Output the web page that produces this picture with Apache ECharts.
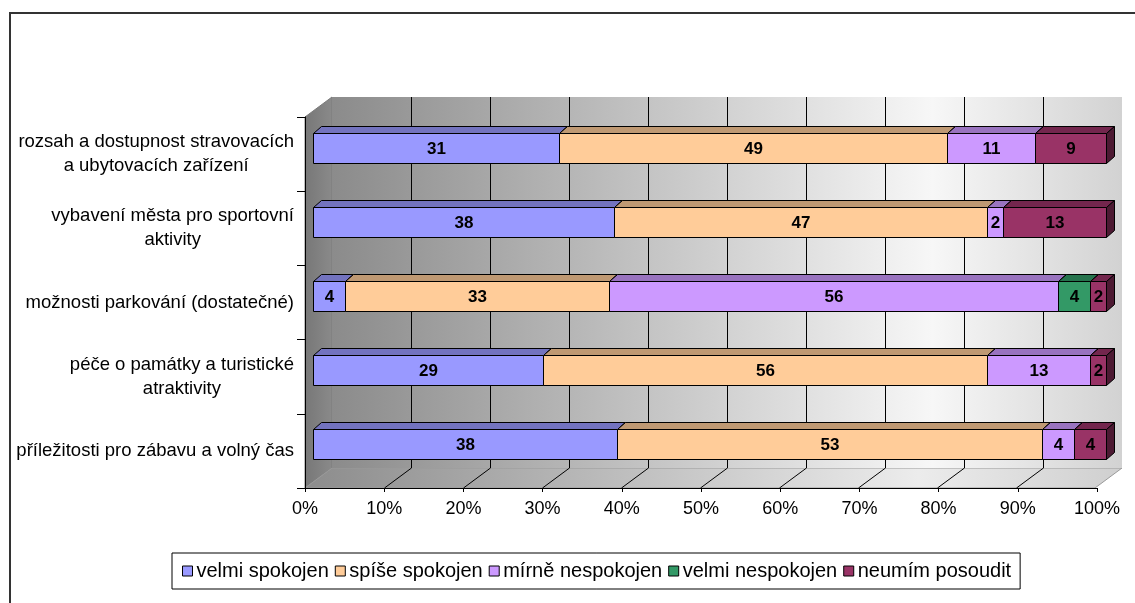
<!DOCTYPE html>
<html><head><meta charset="utf-8">
<script src="https://cdn.jsdelivr.net/npm/echarts/dist/echarts.min.js"></script>
<style>html,body{margin:0;padding:0;background:#fff}#c{width:1135px;height:603px}</style>
</head><body><div id="c"></div>
<script>
// ---- data ----
const categories = [
  'rozsah a dostupnost stravovacích\na ubytovacích zařízení',
  'vybavení města pro sportovní\naktivity',
  'možnosti parkování (dostatečné)',
  'péče o památky a turistické\natraktivity',
  'příležitosti pro zábavu a volný čas'
];
const seriesNames = ['velmi spokojen', 'spíše spokojen', 'mírně nespokojen', 'velmi nespokojen', 'neumím posoudit'];
const velmiSpokojen   = [31, 38, 4, 29, 38];
const spiseSpokojen   = [49, 47, 33, 56, 53];
const mirneNespokojen = [11, 2, 56, 13, 4];
const velmiNespokojen = [0, 0, 4, 0, 0];
const neumimPosoudit  = [9, 13, 2, 2, 4];
const xTickValues = [0, 10, 20, 30, 40, 50, 60, 70, 80, 90, 100];
const xTickLabels = ['0%', '10%', '20%', '30%', '40%', '50%', '60%', '70%', '80%', '90%', '100%'];

// ---- style ----
const seriesValues = [velmiSpokojen, spiseSpokojen, mirneNespokojen, velmiNespokojen, neumimPosoudit];
const colors = ['#9999FF', '#FFCC99', '#CC99FF', '#339966', '#993366'];
const FONT = "'Liberation Sans', Arial, sans-serif";
const WALL_DX = 27, WALL_DY = 20;   // depth of the 3D box
const BAR_DX = 8, BAR_DY = 7;       // depth of the 3D bars
const BAR_H = 30;

function shade(hex, f) {
  const n = parseInt(hex.slice(1), 16);
  const r = Math.round(((n >> 16) & 255) * f), g = Math.round(((n >> 8) & 255) * f), b = Math.round((n & 255) * f);
  return 'rgb(' + r + ',' + g + ',' + b + ')';
}
const px = v => Math.round(v) + 0.5;

// row totals -> 100 % stacking
const totals = categories.map((c, i) => seriesValues.reduce((s, arr) => s + arr[i], 0));
const cum = categories.map(() => 0);
const stackedData = seriesValues.map(arr => arr.map((v, i) => {
  const s = cum[i] / totals[i] * 100;
  cum[i] += v;
  const e = cum[i] / totals[i] * 100;
  return [i, s, e, v];
}));

function renderBar(params, api) {
  const v = api.value(3);
  if (!v) return null;
  const row = api.value(0);
  const p0 = api.coord([api.value(1), row]);
  const p1 = api.coord([api.value(2), row]);
  const x0 = px(p0[0]), x1 = px(p1[0]);
  const yT = px(p0[1] - BAR_H / 2), yB = px(p0[1] + BAR_H / 2);
  const color = colors[params.seriesIndex - 1];
  return {
    type: 'group',
    children: [
      { type: 'polygon', shape: { points: [[x0, yT], [x1, yT], [x1 + BAR_DX, yT - BAR_DY], [x0 + BAR_DX, yT - BAR_DY]] },
        style: { fill: shade(color, 0.75), stroke: '#000', lineWidth: 1 } },
      { type: 'polygon', shape: { points: [[x1, yT], [x1 + BAR_DX, yT - BAR_DY], [x1 + BAR_DX, yB - BAR_DY], [x1, yB]] },
        style: { fill: shade(color, 0.5), stroke: '#000', lineWidth: 1 } },
      { type: 'rect', shape: { x: x0, y: yT, width: x1 - x0, height: yB - yT },
        style: { fill: color, stroke: '#000', lineWidth: 1 } },
      { type: 'text', x: (x0 + x1) / 2, y: (yT + yB) / 2 + 1,
        style: { text: String(v), fill: '#000', font: 'bold 17px ' + FONT, align: 'center', verticalAlign: 'middle' } }
    ]
  };
}

function renderWalls(params, api) {
  const cs = params.coordSys;
  const bx = cs.x, by = cs.y, bw = cs.width, bh = cs.height;
  const fb = by + bh + WALL_DY;
  const children = [
    { type: 'polygon', shape: { points: [[bx - WALL_DX, by + WALL_DY], [bx, by], [bx, by + bh], [bx - WALL_DX, fb]] },
      style: { fill: { type: 'linear', x: 0, y: 0, x2: 1, y2: 0, colorStops: [{ offset: 0, color: '#777777' }, { offset: 1, color: '#8a8a8a' }] }, stroke: '#7a7a7a', lineWidth: 1 } },
    { type: 'polygon', shape: { points: [[bx - WALL_DX, fb], [bx, by + bh], [bx + bw, by + bh], [bx + bw - WALL_DX, fb]] },
      style: { fill: { type: 'linear', x: 0, y: 0, x2: 1, y2: 0, colorStops: [{ offset: 0, color: '#8c8c8c' }, { offset: 0.75, color: '#ececec' }, { offset: 1, color: '#cfcfcf' }] }, stroke: '#9a9a9a', lineWidth: 1 } }
  ];
  xTickValues.forEach(t => {
    if (t === xTickValues[0] || t === xTickValues[xTickValues.length - 1]) return;
    const x = px(api.coord([t, 0])[0]);
    children.push({ type: 'line', shape: { x1: x, y1: by + bh, x2: x - WALL_DX, y2: fb }, style: { stroke: '#000', lineWidth: 1 } });
  });
  return { type: 'group', children };
}

const chart = echarts.init(document.getElementById('c'), null, { renderer: 'canvas' });
const option = {
  animation: false,
  backgroundColor: '#fff',
  textStyle: { fontFamily: FONT },
  graphic: [{
    type: 'rect', shape: { x: 10, y: 13, width: 1300, height: 700 }, z: 10,
    style: { fill: null, stroke: '#333', lineWidth: 2 }, silent: true
  }],
  legend: {
    data: seriesNames,
    left: 172, top: 553,
    padding: [7, 9, 7, 10],
    itemGap: 6,
    itemWidth: 10, itemHeight: 10,
    icon: 'rect',
    borderColor: '#000', borderWidth: 1,
    itemStyle: { borderColor: '#000', borderWidth: 1 },
    textStyle: { fontSize: 20, lineHeight: 22, color: '#000', fontFamily: FONT, padding: [0, 0, 0, -1] }
  },
  grid: [
    { left: 305, top: 117, width: 792, height: 371, containLabel: false, outerBoundsMode: 'none' },
    { left: 332, top: 97, width: 790, height: 371, containLabel: false, outerBoundsMode: 'none', show: true, borderWidth: 0,
      backgroundColor: { type: 'linear', x: 0, y: 0, x2: 1, y2: 0, colorStops: [{ offset: 0, color: '#8b8b8b' }, { offset: 0.76, color: '#f7f7f7' }, { offset: 1, color: '#d2d2d2' }] } },
    { left: 313, top: 111, width: 793, height: 370, containLabel: false, outerBoundsMode: 'none' }
  ],
  xAxis: [
    { gridIndex: 0, type: 'value', min: 0, max: 100, interval: 10,
      axisLine: { show: true, lineStyle: { color: '#000', width: 1 } },
      axisTick: { show: true, length: 4, lineStyle: { color: '#000' } },
      splitLine: { show: false },
      axisLabel: { margin: 12, color: '#000', fontSize: 18, fontFamily: FONT,
        formatter: v => xTickLabels[xTickValues.indexOf(v)] } },
    { gridIndex: 1, type: 'value', min: 0, max: 100, interval: 10,
      axisLine: { show: false }, axisTick: { show: false }, axisLabel: { show: false },
      splitLine: { show: true, showMinLine: false, showMaxLine: false, lineStyle: { color: '#000', width: 1 } } },
    { gridIndex: 2, type: 'value', min: 0, max: 100, show: false, splitLine: { show: false } }
  ],
  yAxis: [
    { gridIndex: 0, type: 'category', data: categories, inverse: true,
      axisLine: { show: true, lineStyle: { color: '#000', width: 1 } },
      axisTick: { show: true, length: 8, alignWithLabel: false, lineStyle: { color: '#000' } },
      axisLabel: { margin: 11, color: '#000', fontSize: 18.5, fontFamily: FONT, lineHeight: 24, align: 'right',
        formatter: v => v.split('\n').map(l => '{c|' + l + '}').join('\n'),
        rich: { c: { align: 'center', fontSize: 18.5, lineHeight: 24, fontFamily: FONT, color: '#000' } } } },
    { gridIndex: 1, type: 'value', min: 0, max: 1, show: false, splitLine: { show: false } },
    { gridIndex: 2, type: 'category', data: categories, inverse: true, show: false }
  ],
  series: [
    { type: 'custom', name: '_walls', xAxisIndex: 1, yAxisIndex: 1, z: -1, silent: true,
      data: [[0, 0]], renderItem: renderWalls }
  ].concat(seriesNames.map((name, k) => ({
    type: 'custom', name: name, xAxisIndex: 2, yAxisIndex: 2, z: 5 + k,
    itemStyle: { color: colors[k] },
    encode: { x: [1, 2], y: 0 },
    data: stackedData[k],
    renderItem: renderBar
  })))
};
chart.setOption(option);
</script>
</body></html>
